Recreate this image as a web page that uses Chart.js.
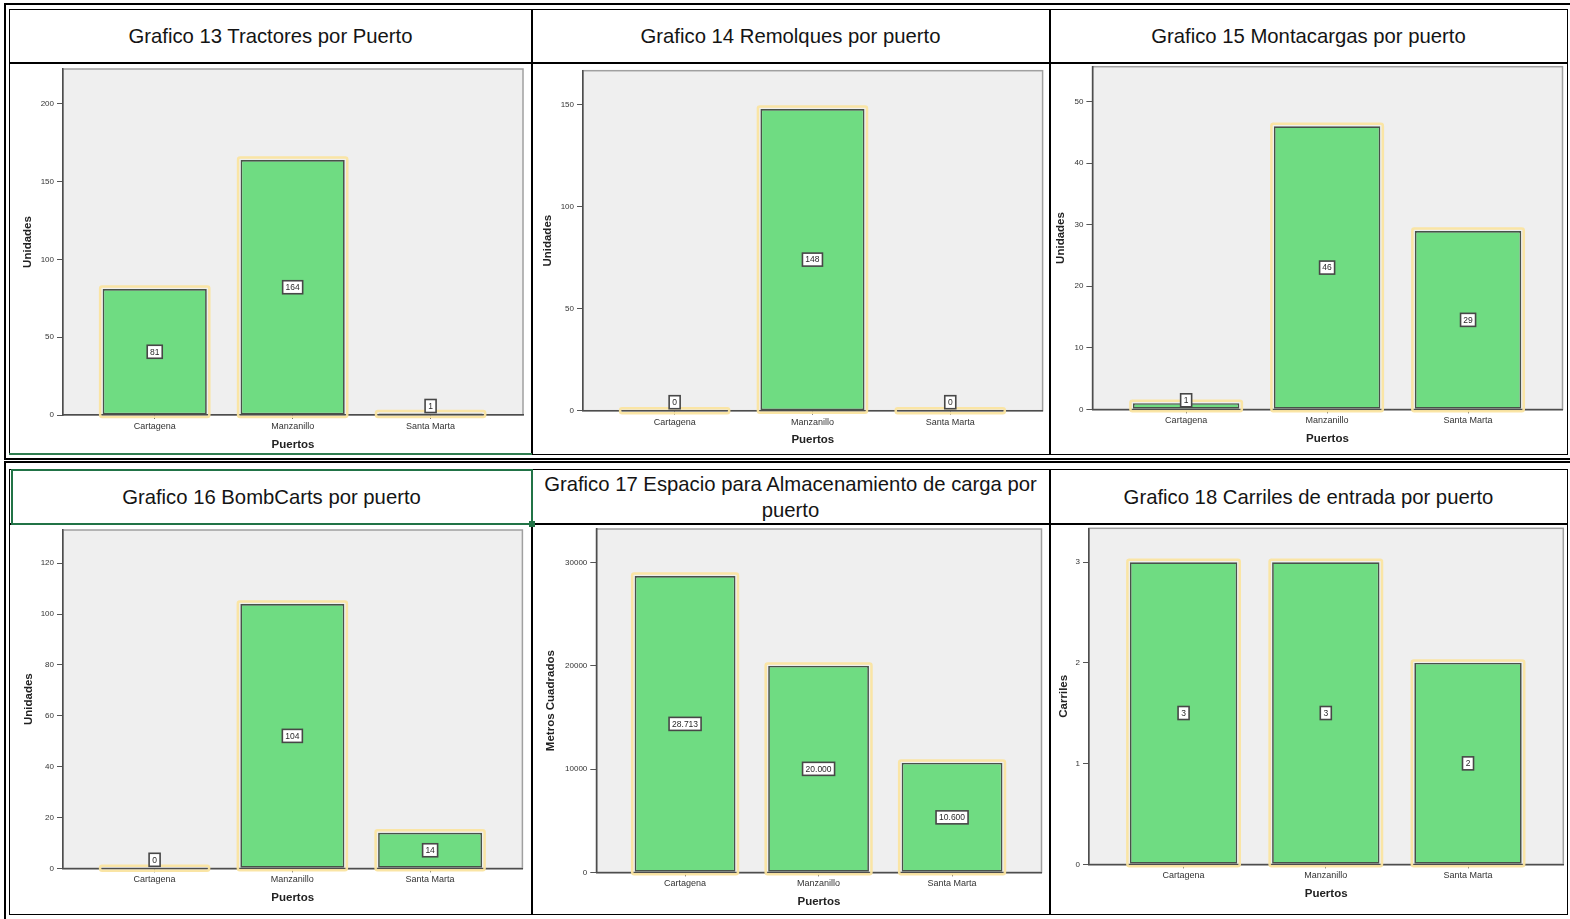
<!DOCTYPE html>
<html lang="es">
<head>
<meta charset="utf-8">
<title>Equipos e infraestructura por puerto</title>
<script src="https://cdn.jsdelivr.net/npm/chart.js@4.4.1/dist/chart.umd.min.js"></script>
<style>
  html, body { margin: 0; padding: 0; background: #fff; }
  body { width: 1570px; height: 919px; position: relative; overflow: hidden;
         font-family: "Liberation Sans", Arial, sans-serif; }
  .marco { position: absolute; box-sizing: border-box; border: 2.5px solid #000; }
  .interior { position: absolute; box-sizing: border-box; border: 1.5px solid #000; }
  .linea { position: absolute; background: #000; }
  .titulo { position: absolute; display: flex; align-items: center; justify-content: center;
            text-align: center; font-size: 20.3px; line-height: 26px; color: #141414; }
  .seleccion { position: absolute; box-sizing: border-box; border: 2px solid #217346; }
  .asa { position: absolute; width: 6px; height: 6px; background: #217346; }
  canvas { position: absolute; }
</style>
</head>
<body>

<!-- tabla superior -->
<div class="marco" style="left:3.5px;top:2.5px;width:1572px;height:457px"></div>
<div class="interior" style="left:9px;top:8.5px;width:1559px;height:446px"></div>
<div class="linea" style="left:9px;top:62px;width:1559px;height:2px"></div>
<div class="linea" style="left:530.5px;top:8.5px;width:2px;height:446px"></div>
<div class="linea" style="left:1048.5px;top:8.5px;width:2px;height:446px"></div>
<div class="linea" style="left:9px;top:453px;width:523px;height:1.5px;background:#2e7d4f"></div>

<!-- tabla inferior -->
<div class="marco" style="left:3.5px;top:460.5px;width:1572px;height:462px"></div>
<div class="interior" style="left:9px;top:468.5px;width:1559px;height:446px"></div>
<div class="linea" style="left:9px;top:523px;width:1559px;height:2px"></div>
<div class="linea" style="left:530.5px;top:468.5px;width:2px;height:446px"></div>
<div class="linea" style="left:1048.5px;top:468.5px;width:2px;height:446px"></div>
<div class="seleccion" style="left:10.5px;top:468.5px;width:522.5px;height:56.5px"></div>
<div class="asa" style="left:529px;top:521px"></div>

<div class="titulo" style="left:10.5px;top:10px;width:520px;height:52px">Grafico 13 Tractores por Puerto</div>
<div class="titulo" style="left:532.5px;top:10px;width:516px;height:52px">Grafico 14 Remolques por puerto</div>
<div class="titulo" style="left:1050.5px;top:10px;width:516px;height:52px">Grafico 15 Montacargas por puerto</div>
<div class="titulo" style="left:12.5px;top:470.5px;width:518px;height:52.5px">Grafico 16 BombCarts por puerto</div>
<div class="titulo" style="left:532.5px;top:470px;width:516px;height:53px">Grafico 17 Espacio para Almacenamiento de carga por puerto</div>
<div class="titulo" style="left:1050.5px;top:470px;width:516px;height:53px">Grafico 18 Carriles de entrada por puerto</div>

<canvas id="g13" width="519" height="389" style="left:11px;top:64px"></canvas>
<canvas id="g14" width="515" height="389" style="left:533px;top:64px"></canvas>
<canvas id="g15" width="515" height="389" style="left:1051px;top:64px"></canvas>
<canvas id="g16" width="519" height="388" style="left:11px;top:525px"></canvas>
<canvas id="g17" width="515" height="388" style="left:533px;top:525px"></canvas>
<canvas id="g18" width="515" height="388" style="left:1051px;top:525px"></canvas>

<script>
const puertos = ['Cartagena', 'Manzanillo', 'Santa Marta'];

const tractores = [81, 164, 1];
const remolques = [0, 148, 0];
const montacargas = [1, 46, 29];
const bombCarts = [0, 104, 14];
const almacenamiento = [28713, 20000, 10600];
const carriles = [3, 3, 2];

const ticksTractores = [0, 50, 100, 150, 200];
const ticksRemolques = [0, 50, 100, 150];
const ticksMontacargas = [0, 10, 20, 30, 40, 50];
const ticksBombCarts = [0, 20, 40, 60, 80, 100, 120];
const ticksAlmacenamiento = [0, 10000, 20000, 30000];
const ticksCarriles = [0, 1, 2, 3];

const FUENTE = "'Liberation Sans', Arial, sans-serif";
const ALTO_EJE_X = 29.5 + 11.5 * 1.2 / 2;

// area = recuadro gris del grafico en coordenadas de la pagina; dy = distancia del titulo Y al eje
const paneles = [
  { id: 'g13', valores: tractores, ticks: ticksTractores, max: 222.5, ejeY: 'Unidades', area: [63, 69, 523, 415], dy: 35 },
  { id: 'g14', valores: remolques, ticks: ticksRemolques, max: 166.8, ejeY: 'Unidades', area: [583, 70.7, 1042.6, 410.7], dy: 35.6 },
  { id: 'g15', valores: montacargas, ticks: ticksMontacargas, max: 55.7, ejeY: 'Unidades', area: [1092.4, 66.7, 1562.5, 409.3], dy: 31.4 },
  { id: 'g16', valores: bombCarts, ticks: ticksBombCarts, max: 133.1, ejeY: 'Unidades', area: [63, 530, 522.4, 868.3], dy: 33.7 },
  { id: 'g17', valores: almacenamiento, ticks: ticksAlmacenamiento, max: 33265, ejeY: 'Metros Cuadrados', area: [596.3, 529, 1041.5, 872.3], dy: 45.5 },
  { id: 'g18', valores: carriles, ticks: ticksCarriles, max: 3.337, ejeY: 'Carriles', area: [1089, 528.3, 1563.3, 864.3], dy: 25.3 }
];

const conPuntos = v => String(v).replace(/\B(?=(\d{3})+(?!\d))/g, '.');

// fondo gris con marco del area de trazado
const fondoArea = {
  id: 'fondoArea',
  beforeDraw(chart) {
    const { ctx, chartArea: a } = chart;
    ctx.save();
    ctx.fillStyle = '#efefef';
    ctx.fillRect(a.left, a.top, a.width, a.height);
    ctx.strokeStyle = '#a0a0a0';
    ctx.lineWidth = 1.5;
    ctx.strokeRect(a.left, a.top, a.width, a.height);
    ctx.restore();
  }
};

// contorno amarillo claro alrededor de cada barra
const halo = {
  id: 'halo',
  beforeDatasetsDraw(chart) {
    const { ctx } = chart;
    ctx.save();
    ctx.strokeStyle = 'rgba(250, 228, 160, 0.95)';
    ctx.lineWidth = 2.5;
    chart.getDatasetMeta(0).data.forEach(bar => {
      const { x, y, base, width } = bar.getProps(['x', 'y', 'base', 'width'], true);
      const top = Math.min(y, base);
      const h = Math.abs(base - y);
      ctx.beginPath();
      ctx.roundRect(x - width / 2 - 2.5, top - 2.5, width + 5, h + 5, 2);
      ctx.stroke();
    });
    ctx.restore();
  }
};

// cajita blanca con el valor en el centro de la barra
const etiquetas = {
  id: 'etiquetas',
  afterDatasetsDraw(chart) {
    const { ctx } = chart;
    const datos = chart.data.datasets[0].data;
    ctx.save();
    ctx.font = '8.5px ' + FUENTE;
    ctx.textAlign = 'center';
    ctx.textBaseline = 'middle';
    chart.getDatasetMeta(0).data.forEach((bar, i) => {
      const { x, y, base } = bar.getProps(['x', 'y', 'base'], true);
      const texto = conPuntos(datos[i].y);
      const w = Math.round(ctx.measureText(texto).width) + 6;
      const h = 13;
      const cy = Math.min((y + base) / 2, base - h / 2 - 2);
      ctx.fillStyle = '#fff';
      ctx.fillRect(x - w / 2, cy - h / 2, w, h);
      ctx.strokeStyle = '#474747';
      ctx.lineWidth = 1.6;
      ctx.strokeRect(x - w / 2, cy - h / 2, w, h);
      ctx.fillStyle = '#2a2a2a';
      ctx.fillText(texto, x, cy + 0.5);
    });
    ctx.restore();
  }
};

paneles.forEach(p => {
  const canvas = document.getElementById(p.id);
  const cx = parseFloat(canvas.style.left);
  const cy = parseFloat(canvas.style.top);
  const [l, t, r, b] = p.area;
  const anchoY = p.dy + 11.5 * 1.2 / 2;

  new Chart(canvas, {
    type: 'bar',
    data: {
      datasets: [{
        data: p.valores.map((v, i) => ({ x: i, y: v })),
        backgroundColor: '#6fdc82',
        borderColor: '#485249',
        borderWidth: 1.7,
        borderSkipped: false,
        barPercentage: 0.755,
        categoryPercentage: 1
      }]
    },
    options: {
      responsive: false,
      animation: false,
      events: [],
      layout: {
        padding: {
          left: l - cx - anchoY,
          top: t - cy,
          right: cx + canvas.width - r,
          bottom: cy + canvas.height - b - ALTO_EJE_X
        }
      },
      plugins: { legend: { display: false }, tooltip: { enabled: false } },
      scales: {
        x: {
          type: 'linear',
          offset: false,
          bounds: 'data',
          min: -0.665,
          max: 2.67,
          afterBuildTicks: s => { s.ticks = puertos.map((_, i) => ({ value: i })); },
          afterFit: s => { s.height = ALTO_EJE_X; s.paddingLeft = 0; s.paddingRight = 0; },
          ticks: {
            callback: v => puertos[v],
            autoSkip: false,
            maxRotation: 0,
            padding: 2,
            color: '#333',
            font: { family: FUENTE, size: 9 }
          },
          grid: { display: true, offset: false, drawOnChartArea: false, drawTicks: true, tickLength: 4, color: '#555' },
          border: { display: true, color: '#4d4d4d', width: 1.5 },
          title: { display: true, text: 'Puertos', padding: 0, color: '#222',
                   font: { family: FUENTE, size: 11.5, weight: 'bold' } }
        },
        y: {
          min: 0,
          max: p.max,
          afterBuildTicks: s => { s.ticks = p.ticks.map(v => ({ value: v })); },
          afterFit: s => { s.width = anchoY; s.paddingTop = 0; s.paddingBottom = 0; },
          ticks: {
            callback: v => String(v),
            padding: 3,
            color: '#333',
            font: { family: FUENTE, size: 8 }
          },
          grid: { display: true, drawOnChartArea: false, drawTicks: true, tickLength: 6, color: '#555' },
          border: { display: true, color: '#4d4d4d', width: 1.5 },
          title: { display: true, text: p.ejeY, padding: 0, color: '#222',
                   font: { family: FUENTE, size: 11.5, weight: 'bold' } }
        }
      }
    },
    plugins: [fondoArea, halo, etiquetas]
  });
});
</script>
</body>
</html>
